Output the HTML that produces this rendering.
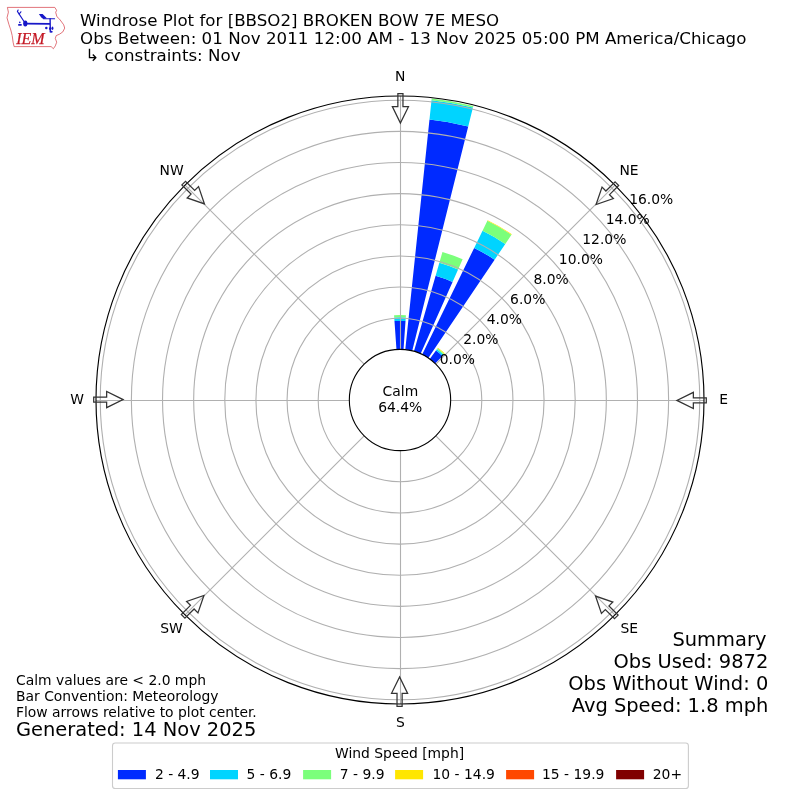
<!DOCTYPE html>
<html lang="en"><head><meta charset="utf-8"><title>Windrose Plot for [BBSO2] BROKEN BOW 7E MESO</title>
<style>html,body{margin:0;padding:0;background:#fff}svg{display:block}text{font-family:"DejaVu Sans", "Liberation Sans", sans-serif;fill:#000}</style></head><body>
<svg width="800" height="800" viewBox="0 0 800 800">
<rect width="800" height="800" fill="#fff"/>
<g shape-rendering="geometricPrecision">
<path d="M396.47 349.46L394.48 321.09A79.10 79.10 0 0 1 405.52 321.09L403.53 349.46A50.67 50.67 0 0 0 396.47 349.46Z" fill="#002aff"/>
<path d="M394.48 321.09L394.22 317.40A82.80 82.80 0 0 1 405.78 317.40L405.52 321.09A79.10 79.10 0 0 0 394.48 321.09Z" fill="#00d4ff"/>
<path d="M394.22 317.40L394.08 315.31A84.90 84.90 0 0 1 405.92 315.31L405.78 317.40A82.80 82.80 0 0 0 394.22 317.40Z" fill="#7bff7b"/>
<path d="M405.30 349.61L429.48 119.54A282.00 282.00 0 0 1 468.22 126.38L412.26 350.84A50.67 50.67 0 0 0 405.30 349.61Z" fill="#002aff"/>
<path d="M429.48 119.54L431.52 100.15A301.50 301.50 0 0 1 472.94 107.46L468.22 126.38A282.00 282.00 0 0 0 429.48 119.54Z" fill="#00d4ff"/>
<path d="M431.52 100.15L431.68 98.61A303.05 303.05 0 0 1 473.31 105.95L472.94 107.46A301.50 301.50 0 0 0 431.52 100.15Z" fill="#7bff7b"/>
<path d="M413.97 351.30L435.61 275.80A129.20 129.20 0 0 1 452.55 281.97L420.61 353.71A50.67 50.67 0 0 0 413.97 351.30Z" fill="#002aff"/>
<path d="M435.61 275.80L439.36 262.73A142.80 142.80 0 0 1 458.08 269.55L452.55 281.97A129.20 129.20 0 0 0 435.61 275.80Z" fill="#00d4ff"/>
<path d="M439.36 262.73L442.45 251.97A154.00 154.00 0 0 1 462.64 259.31L458.08 269.55A142.80 142.80 0 0 0 439.36 262.73Z" fill="#7bff7b"/>
<path d="M422.21 354.46L474.17 247.92A169.20 169.20 0 0 1 494.62 259.73L428.33 358.00A50.67 50.67 0 0 0 422.21 354.46Z" fill="#002aff"/>
<path d="M474.17 247.92L482.55 230.76A188.30 188.30 0 0 1 505.30 243.89L494.62 259.73A169.20 169.20 0 0 0 474.17 247.92Z" fill="#00d4ff"/>
<path d="M482.55 230.76L487.37 220.87A199.30 199.30 0 0 1 511.45 234.77L505.30 243.89A188.30 188.30 0 0 0 482.55 230.76Z" fill="#7bff7b"/>
<path d="M487.37 220.87L487.67 220.24A200.00 200.00 0 0 1 511.84 234.19L511.45 234.77A199.30 199.30 0 0 0 487.37 220.87Z" fill="#ffe600"/>
<path d="M429.78 359.01L435.97 350.49A61.20 61.20 0 0 1 442.51 355.98L435.20 363.55A50.67 50.67 0 0 0 429.78 359.01Z" fill="#002aff"/>
<path d="M435.97 350.49L436.91 349.19A62.80 62.80 0 0 1 443.62 354.83L442.51 355.98A61.20 61.20 0 0 0 435.97 350.49Z" fill="#00d4ff"/>
<path d="M436.91 349.19L437.56 348.30A63.90 63.90 0 0 1 444.39 354.03L443.62 354.83A62.80 62.80 0 0 0 436.91 349.19Z" fill="#7bff7b"/>
<path d="M437.56 348.30L437.97 347.74A64.60 64.60 0 0 1 444.87 353.53L444.39 354.03A63.90 63.90 0 0 0 437.56 348.30Z" fill="#ffe600"/>
</g>
<g fill="none" stroke="#b0b0b0" stroke-width="1.11">
<circle cx="400.0" cy="400.0" r="81.80"/>
<circle cx="400.0" cy="400.0" r="112.94"/>
<circle cx="400.0" cy="400.0" r="144.07"/>
<circle cx="400.0" cy="400.0" r="175.21"/>
<circle cx="400.0" cy="400.0" r="206.34"/>
<circle cx="400.0" cy="400.0" r="237.48"/>
<circle cx="400.0" cy="400.0" r="268.61"/>
<circle cx="400.0" cy="400.0" r="299.75"/>
<line x1="400.50" y1="349.33" x2="400.50" y2="96.00"/>
<line x1="435.83" y1="364.17" x2="614.96" y2="185.04"/>
<line x1="450.67" y1="400.50" x2="704.00" y2="400.50"/>
<line x1="435.83" y1="435.83" x2="614.96" y2="614.96"/>
<line x1="400.50" y1="450.67" x2="400.50" y2="704.00"/>
<line x1="364.17" y1="435.83" x2="185.04" y2="614.96"/>
<line x1="349.33" y1="400.50" x2="96.00" y2="400.50"/>
<line x1="364.17" y1="364.17" x2="185.04" y2="185.04"/>
</g>
<circle cx="400.0" cy="400.0" r="304.0" fill="none" stroke="#000" stroke-width="1.15"/>
<circle cx="400.0" cy="400.0" r="50.67" fill="none" stroke="#000" stroke-width="1.1"/>
<g fill="none" stroke="#333" stroke-width="1.25" stroke-linejoin="miter">
<polygon points="-2.55,-306.30 2.55,-306.30 2.55,-293.35 8.05,-293.35 0.00,-276.90 -8.05,-293.35 -2.55,-293.35" transform="translate(400.0 400.0) rotate(0.08)"/>
<polygon points="-2.55,-306.30 2.55,-306.30 2.55,-293.35 8.05,-293.35 0.00,-276.90 -8.05,-293.35 -2.55,-293.35" transform="translate(400.0 400.0) rotate(45.08)"/>
<polygon points="-2.55,-306.30 2.55,-306.30 2.55,-293.35 8.05,-293.35 0.00,-276.90 -8.05,-293.35 -2.55,-293.35" transform="translate(400.0 400.0) rotate(90.08)"/>
<polygon points="-2.55,-306.30 2.55,-306.30 2.55,-293.35 8.05,-293.35 0.00,-276.90 -8.05,-293.35 -2.55,-293.35" transform="translate(400.0 400.0) rotate(135.08)"/>
<polygon points="-2.55,-306.30 2.55,-306.30 2.55,-293.35 8.05,-293.35 0.00,-276.90 -8.05,-293.35 -2.55,-293.35" transform="translate(400.0 400.0) rotate(180.08)"/>
<polygon points="-2.55,-306.30 2.55,-306.30 2.55,-293.35 8.05,-293.35 0.00,-276.90 -8.05,-293.35 -2.55,-293.35" transform="translate(400.0 400.0) rotate(225.08)"/>
<polygon points="-2.55,-306.30 2.55,-306.30 2.55,-293.35 8.05,-293.35 0.00,-276.90 -8.05,-293.35 -2.55,-293.35" transform="translate(400.0 400.0) rotate(270.08)"/>
<polygon points="-2.55,-306.30 2.55,-306.30 2.55,-293.35 8.05,-293.35 0.00,-276.90 -8.05,-293.35 -2.55,-293.35" transform="translate(400.0 400.0) rotate(315.08)"/>
</g>
<text x="400.10" y="81" font-size="13.89" text-anchor="middle">N</text>
<text x="629.00" y="175" font-size="13.89" text-anchor="middle">NE</text>
<text x="723.70" y="404" font-size="13.89" text-anchor="middle">E</text>
<text x="629.30" y="633" font-size="13.89" text-anchor="middle">SE</text>
<text x="400.45" y="727" font-size="13.89" text-anchor="middle">S</text>
<text x="171.50" y="633" font-size="13.89" text-anchor="middle">SW</text>
<text x="77.05" y="404" font-size="13.89" text-anchor="middle">W</text>
<text x="171.65" y="175" font-size="13.89" text-anchor="middle">NW</text>
<text x="439.80" y="364.00" font-size="13.89">0.0%</text>
<text x="463.23" y="344.00" font-size="13.89">2.0%</text>
<text x="486.66" y="324.00" font-size="13.89">4.0%</text>
<text x="510.09" y="304.00" font-size="13.89">6.0%</text>
<text x="533.52" y="284.00" font-size="13.89">8.0%</text>
<text x="558.85" y="264.00" font-size="13.89">10.0%</text>
<text x="582.28" y="244.00" font-size="13.89">12.0%</text>
<text x="605.71" y="224.00" font-size="13.89">14.0%</text>
<text x="629.14" y="204.00" font-size="13.89">16.0%</text>
<text x="400.4" y="395.8" font-size="13.89" text-anchor="middle">Calm</text>
<text x="400.2" y="411.6" font-size="13.89" text-anchor="middle">64.4%</text>
<text x="80.0" y="25.75" font-size="16.67">Windrose Plot for [BBSO2] BROKEN BOW 7E MESO</text>
<text x="80.0" y="43.75" font-size="16.67" textLength="666.4" lengthAdjust="spacing">Obs Between: 01 Nov 2011 12:00 AM - 13 Nov 2025 05:00 PM America/Chicago</text>
<text x="85.3" y="60.6" font-size="16.67">↳ constraints: Nov</text>
<text x="16.0" y="685" font-size="13.89">Calm values are &lt; 2.0 mph</text>
<text x="16.0" y="701" font-size="13.89">Bar Convention: Meteorology</text>
<text x="16.0" y="717" font-size="13.89">Flow arrows relative to plot center.</text>
<text x="16.0" y="736" font-size="19.44">Generated: 14 Nov 2025</text>
<text x="766.4" y="645.5" font-size="19.44" text-anchor="end">Summary</text>
<text x="768.3" y="667.7" font-size="19.44" text-anchor="end">Obs Used: 9872</text>
<text x="768.3" y="689.75" font-size="19.44" text-anchor="end">Obs Without Wind: 0</text>
<text x="768.3" y="711.5" font-size="19.44" text-anchor="end">Avg Speed: 1.8 mph</text>
<rect x="112.5" y="743" width="575.9" height="45.5" rx="2.8" ry="2.8" fill="#fff" fill-opacity="0.8" stroke="#ccc" stroke-width="1.1"/>
<text x="335.0" y="757.9" font-size="13.89">Wind Speed [mph]</text>
<rect x="117.9" y="770.0" width="28.0" height="9.3" fill="#002aff"/>
<text x="154.9" y="778.7" font-size="13.89">2 - 4.9</text>
<rect x="210.0" y="770.0" width="28.0" height="9.3" fill="#00d4ff"/>
<text x="246.6" y="778.7" font-size="13.89">5 - 6.9</text>
<rect x="303.1" y="770.0" width="28.0" height="9.3" fill="#7bff7b"/>
<text x="339.8" y="778.7" font-size="13.89">7 - 9.9</text>
<rect x="395.1" y="770.0" width="28.0" height="9.3" fill="#ffe600"/>
<text x="432.5" y="778.7" font-size="13.89">10 - 14.9</text>
<rect x="506.1" y="770.0" width="28.0" height="9.3" fill="#ff4800"/>
<text x="542.0" y="778.7" font-size="13.89">15 - 19.9</text>
<rect x="616.1" y="770.0" width="28.0" height="9.3" fill="#800000"/>
<text x="652.8" y="778.7" font-size="13.89">20+</text>
<g id="logo">
<path d="M7.4 7.4L54.8 7.4L56.6 10.3L55.7 12.3L56.9 16.7L59.6 19.2L63.7 24.8L64.7 28.1L62.8 31.9L59.5 34.2L56.2 35.6L55.3 38.4L56.7 42.2L55.3 45.9L53.4 48.7L51.1 46.6L14.1 46.6L13.1 42.2L12.2 35.6L10.8 30L8.9 24.4L7.0 17.8L8.4 12.2Z" fill="#fff" stroke="#d43a42" stroke-width="0.7" stroke-linejoin="round"/>
<text x="16.2" y="43.9" font-size="16" style="font-family:'Liberation Serif',serif;font-style:italic;fill:#c41824;stroke:#c41824;stroke-width:0.25">IEM</text>
<g stroke="#1818c8" fill="#1818c8" stroke-linecap="round">
<ellipse cx="25.3" cy="23.6" rx="2.15" ry="3.0" stroke="none"/>
<path d="M25.3 23.7L50 23.8" stroke-width="1.8" stroke-linecap="butt" fill="none"/>
<path d="M25.0 23.0L18.2 12.6L17.4 11.5L18.1 10.1" stroke-width="1.15" fill="none" stroke-linejoin="round"/>
<path d="M19.2 14.0L20.9 11.8" stroke-width="1.1" fill="none"/>
<path d="M38.9 14.1L42.6 14.1L46.9 18.3L43.3 19.1L41.3 17.5Z" stroke="none"/>
<path d="M50.1 18.6L50.3 32.0" stroke-width="1.4" fill="none"/>
<path d="M43.6 18.8L54.6 18.8" stroke-width="1.1" fill="none"/>
<circle cx="19.8" cy="22.4" r="0.8" stroke="none"/>
<rect x="18.0" y="24.1" width="3.9" height="1.7" rx="0.8" stroke="none"/>
<circle cx="46.3" cy="27.9" r="1.25" stroke="none"/>
<ellipse cx="52.5" cy="28.3" rx="0.9" ry="1.7" stroke="none"/>
<circle cx="51.6" cy="31.7" r="1.05" stroke="none"/>
<ellipse cx="50.2" cy="28.6" rx="1.2" ry="1.6" stroke="none"/>
</g>
</g>

</svg></body></html>
